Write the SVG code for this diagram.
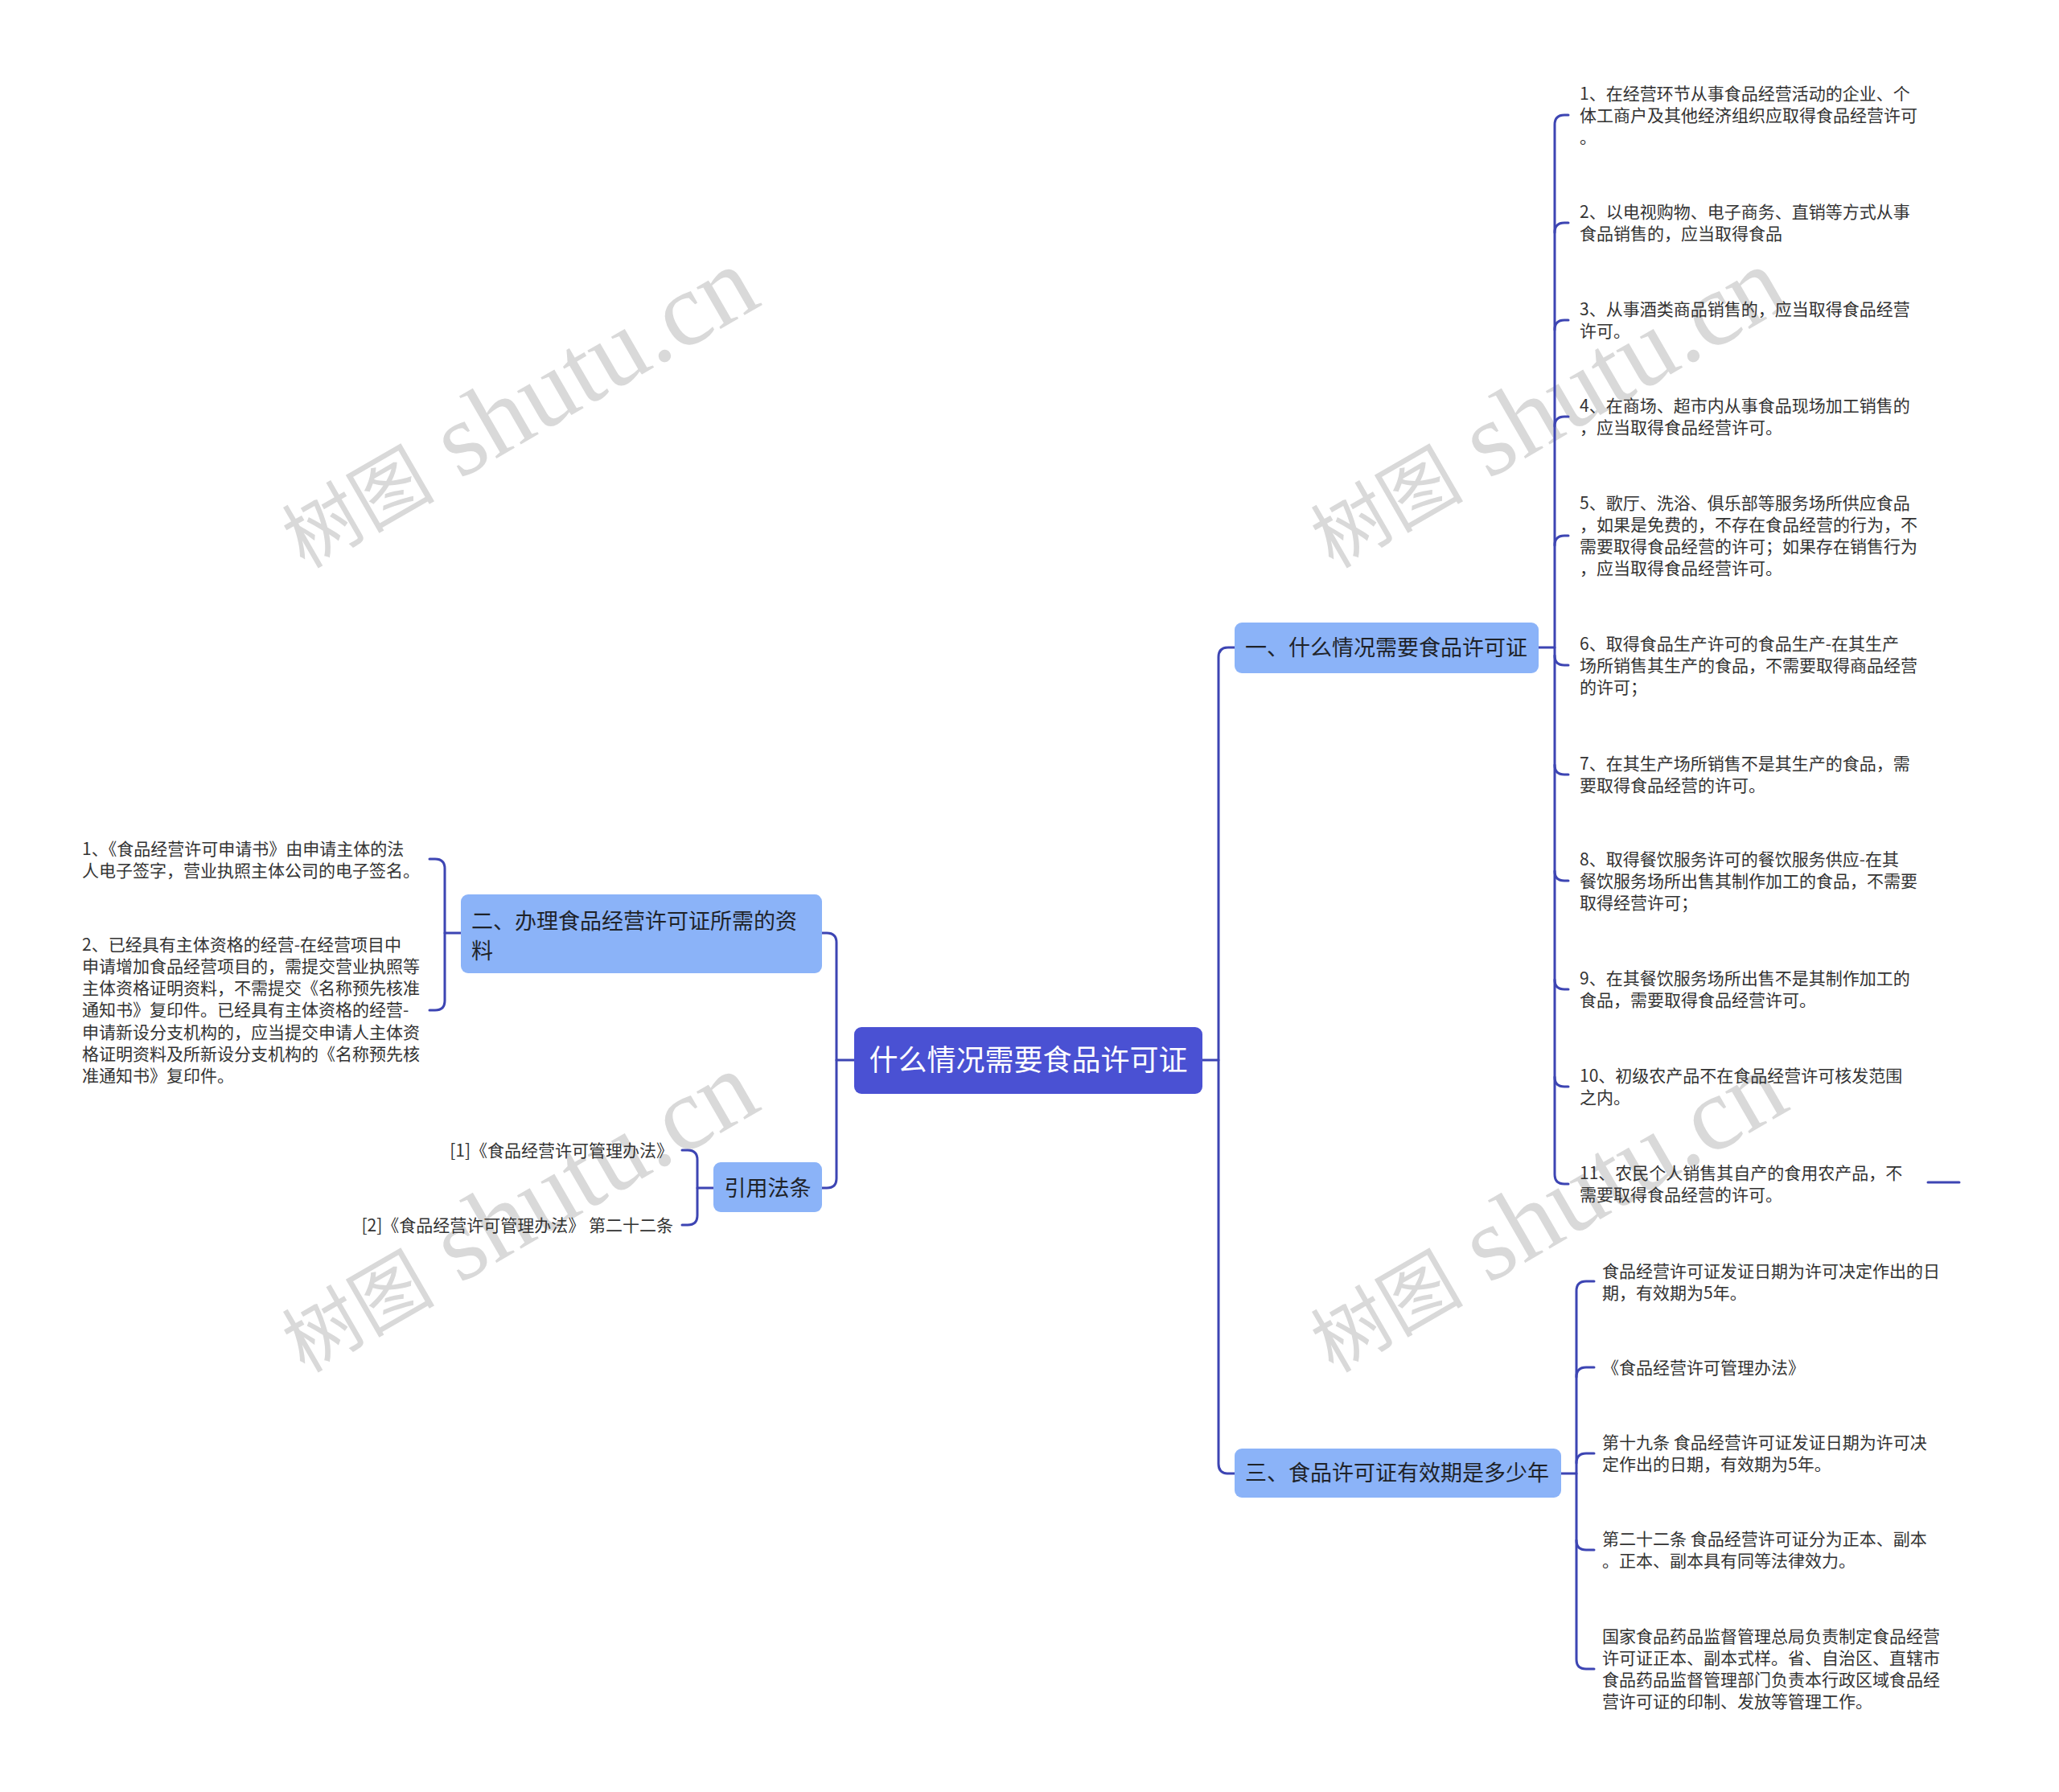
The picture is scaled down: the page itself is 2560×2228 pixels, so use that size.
<svg xmlns="http://www.w3.org/2000/svg" width="2560" height="2228" viewBox="0 0 2560 2228">
<style>
.wm{fill:#d9d9d9}
.wmc{font-family:"Noto Sans CJK SC",sans-serif;font-size:95px}
.wml{font-family:"Liberation Serif",serif;font-size:130px}
.con{fill:none;stroke:#3d45b3;stroke-width:3;stroke-linecap:round}
.root rect{fill:#4a51d3}
.root text{fill:#ffffff;font-family:"Noto Sans CJK SC",sans-serif;font-size:36px}
.br rect{fill:#8bb3f8}
.br text{fill:#1f2329;font-family:"Noto Sans CJK SC",sans-serif;font-size:27px}
.leaf text{fill:#333333;font-family:"Noto Sans CJK SC",sans-serif;font-size:21px}
</style>
<rect width="2560" height="2228" fill="#ffffff"/>
<g id="watermarks">
<g transform="translate(645,510) rotate(-30)"><text class="wm" x="0" y="38" text-anchor="middle"><tspan class="wmc">树图</tspan><tspan class="wml"> shutu.cn</tspan></text></g>
<g transform="translate(1924,510) rotate(-30)"><text class="wm" x="0" y="38" text-anchor="middle"><tspan class="wmc">树图</tspan><tspan class="wml"> shutu.cn</tspan></text></g>
<g transform="translate(645,1510) rotate(-30)"><text class="wm" x="0" y="38" text-anchor="middle"><tspan class="wmc">树图</tspan><tspan class="wml"> shutu.cn</tspan></text></g>
<g transform="translate(1924,1510) rotate(-30)"><text class="wm" x="0" y="38" text-anchor="middle"><tspan class="wmc">树图</tspan><tspan class="wml"> shutu.cn</tspan></text></g>
</g>
<g id="connectors">
<path class="con" d="M1495 1318 H1515"/>
<path class="con" d="M1535 805 H1527 Q1515 805 1515 817 V1820 Q1515 1832 1527 1832 H1535"/>
<path class="con" d="M1062 1318 H1040"/>
<path class="con" d="M1022 1160 H1028 Q1040 1160 1040 1172 V1465 Q1040 1477 1028 1477 H1022"/>
<path class="con" d="M1913 805 H1933"/>
<path class="con" d="M1950 143 H1945 Q1933 143 1933 155 V1460 Q1933 1472 1945 1472 H1950"/>
<path class="con" d="M1933 289 Q1933 277 1945 277 H1950"/>
<path class="con" d="M1933 410 Q1933 398 1945 398 H1950"/>
<path class="con" d="M1933 530 Q1933 518 1945 518 H1950"/>
<path class="con" d="M1933 678 Q1933 666 1945 666 H1950"/>
<path class="con" d="M1933 815 Q1933 827 1945 827 H1950"/>
<path class="con" d="M1933 951 Q1933 963 1945 963 H1950"/>
<path class="con" d="M1933 1083 Q1933 1095 1945 1095 H1950"/>
<path class="con" d="M1933 1218 Q1933 1230 1945 1230 H1950"/>
<path class="con" d="M1933 1339 Q1933 1351 1945 1351 H1950"/>
<path class="con" d="M2397 1470 H2436"/>
<path class="con" d="M1941 1832 H1960"/>
<path class="con" d="M1982 1593 H1972 Q1960 1593 1960 1605 V2063 Q1960 2075 1972 2075 H1982"/>
<path class="con" d="M1960 1712 Q1960 1700 1972 1700 H1982"/>
<path class="con" d="M1960 1819 Q1960 1807 1972 1807 H1982"/>
<path class="con" d="M1960 1915 Q1960 1927 1972 1927 H1982"/>
<path class="con" d="M573 1160 H553"/>
<path class="con" d="M534 1068 H541 Q553 1068 553 1080 V1244 Q553 1256 541 1256 H534"/>
<path class="con" d="M887 1477 H867"/>
<path class="con" d="M848 1430 H855 Q867 1430 867 1442 V1511 Q867 1523 855 1523 H848"/>
</g>
<g id="root" class="root">
<rect x="1062" y="1277" width="433" height="83" rx="9"/>
<text x="1278.5" y="1331" text-anchor="middle">什么情况需要食品许可证</text>
</g>
<g id="branch1" class="br">
<rect x="1535" y="774" width="378" height="63" rx="9"/>
<text x="1548" y="815">一、什么情况需要食品许可证</text>
</g>
<g id="branch2" class="br">
<rect x="573" y="1112" width="449" height="98" rx="9"/>
<text x="586" y="1155"><tspan x="586">二、办理食品经营许可证所需的资</tspan><tspan x="586" dy="37">料</tspan></text>
</g>
<g id="branch3" class="br">
<rect x="1535" y="1801" width="406" height="61" rx="9"/>
<text x="1548" y="1841">三、食品许可证有效期是多少年</text>
</g>
<g id="branch4" class="br">
<rect x="887" y="1445" width="135" height="62" rx="9"/>
<text x="954.5" y="1487" text-anchor="middle">引用法条</text>
</g>
<g id="leaf1-1" class="leaf"><text y="123.5"><tspan x="1964">1、在经营环节从事食品经营活动的企业、个</tspan><tspan x="1964" dy="27.3">体工商户及其他经济组织应取得食品经营许可</tspan><tspan x="1964" dy="27.3">。</tspan></text></g>
<g id="leaf1-2" class="leaf"><text y="270.5"><tspan x="1964">2、以电视购物、电子商务、直销等方式从事</tspan><tspan x="1964" dy="27.3">食品销售的，应当取得食品</tspan></text></g>
<g id="leaf1-3" class="leaf"><text y="391.5"><tspan x="1964">3、从事酒类商品销售的，应当取得食品经营</tspan><tspan x="1964" dy="27.3">许可。</tspan></text></g>
<g id="leaf1-4" class="leaf"><text y="511.5"><tspan x="1964">4、在商场、超市内从事食品现场加工销售的</tspan><tspan x="1964" dy="27.3">，应当取得食品经营许可。</tspan></text></g>
<g id="leaf1-5" class="leaf"><text y="632.5"><tspan x="1964">5、歌厅、洗浴、俱乐部等服务场所供应食品</tspan><tspan x="1964" dy="27.3">，如果是免费的，不存在食品经营的行为，不</tspan><tspan x="1964" dy="27.3">需要取得食品经营的许可；如果存在销售行为</tspan><tspan x="1964" dy="27.3">，应当取得食品经营许可。</tspan></text></g>
<g id="leaf1-6" class="leaf"><text y="807.5"><tspan x="1964">6、取得食品生产许可的食品生产-在其生产</tspan><tspan x="1964" dy="27.3">场所销售其生产的食品，不需要取得商品经营</tspan><tspan x="1964" dy="27.3">的许可；</tspan></text></g>
<g id="leaf1-7" class="leaf"><text y="956.5"><tspan x="1964">7、在其生产场所销售不是其生产的食品，需</tspan><tspan x="1964" dy="27.3">要取得食品经营的许可。</tspan></text></g>
<g id="leaf1-8" class="leaf"><text y="1075.5"><tspan x="1964">8、取得餐饮服务许可的餐饮服务供应-在其</tspan><tspan x="1964" dy="27.3">餐饮服务场所出售其制作加工的食品，不需要</tspan><tspan x="1964" dy="27.3">取得经营许可；</tspan></text></g>
<g id="leaf1-9" class="leaf"><text y="1223.5"><tspan x="1964">9、在其餐饮服务场所出售不是其制作加工的</tspan><tspan x="1964" dy="27.3">食品，需要取得食品经营许可。</tspan></text></g>
<g id="leaf1-10" class="leaf"><text y="1344.5"><tspan x="1964">10、初级农产品不在食品经营许可核发范围</tspan><tspan x="1964" dy="27.3">之内。</tspan></text></g>
<g id="leaf1-11" class="leaf"><text y="1465.5"><tspan x="1964">11、农民个人销售其自产的食用农产品，不</tspan><tspan x="1964" dy="27.3">需要取得食品经营的许可。</tspan></text></g>
<g id="leaf3-1" class="leaf"><text y="1587.5"><tspan x="1992">食品经营许可证发证日期为许可决定作出的日</tspan><tspan x="1992" dy="27.3">期，有效期为5年。</tspan></text></g>
<g id="leaf3-2" class="leaf"><text y="1707.5"><tspan x="1992">《食品经营许可管理办法》</tspan></text></g>
<g id="leaf3-3" class="leaf"><text y="1800.5"><tspan x="1992">第十九条 食品经营许可证发证日期为许可决</tspan><tspan x="1992" dy="27.3">定作出的日期，有效期为5年。</tspan></text></g>
<g id="leaf3-4" class="leaf"><text y="1920.5"><tspan x="1992">第二十二条 食品经营许可证分为正本、副本</tspan><tspan x="1992" dy="27.3">。正本、副本具有同等法律效力。</tspan></text></g>
<g id="leaf3-5" class="leaf"><text y="2041.5"><tspan x="1992">国家食品药品监督管理总局负责制定食品经营</tspan><tspan x="1992" dy="27.3">许可证正本、副本式样。省、自治区、直辖市</tspan><tspan x="1992" dy="27.3">食品药品监督管理部门负责本行政区域食品经</tspan><tspan x="1992" dy="27.3">营许可证的印制、发放等管理工作。</tspan></text></g>
<g id="leaf2-1" class="leaf"><text y="1062.5"><tspan x="102">1、《食品经营许可申请书》由申请主体的法</tspan><tspan x="102" dy="27.3">人电子签字，营业执照主体公司的电子签名。</tspan></text></g>
<g id="leaf2-2" class="leaf"><text y="1181.5"><tspan x="102">2、已经具有主体资格的经营-在经营项目中</tspan><tspan x="102" dy="27.3">申请增加食品经营项目的，需提交营业执照等</tspan><tspan x="102" dy="27.3">主体资格证明资料，不需提交《名称预先核准</tspan><tspan x="102" dy="27.3">通知书》复印件。已经具有主体资格的经营-</tspan><tspan x="102" dy="27.3">申请新设分支机构的，应当提交申请人主体资</tspan><tspan x="102" dy="27.3">格证明资料及所新设分支机构的《名称预先核</tspan><tspan x="102" dy="27.3">准通知书》复印件。</tspan></text></g>
<g id="cite-1" class="leaf"><text x="837" y="1437.5" text-anchor="end">[1]《食品经营许可管理办法》</text></g>
<g id="cite-2" class="leaf"><text x="837" y="1530.5" text-anchor="end">[2]《食品经营许可管理办法》 第二十二条</text></g>
</svg>
